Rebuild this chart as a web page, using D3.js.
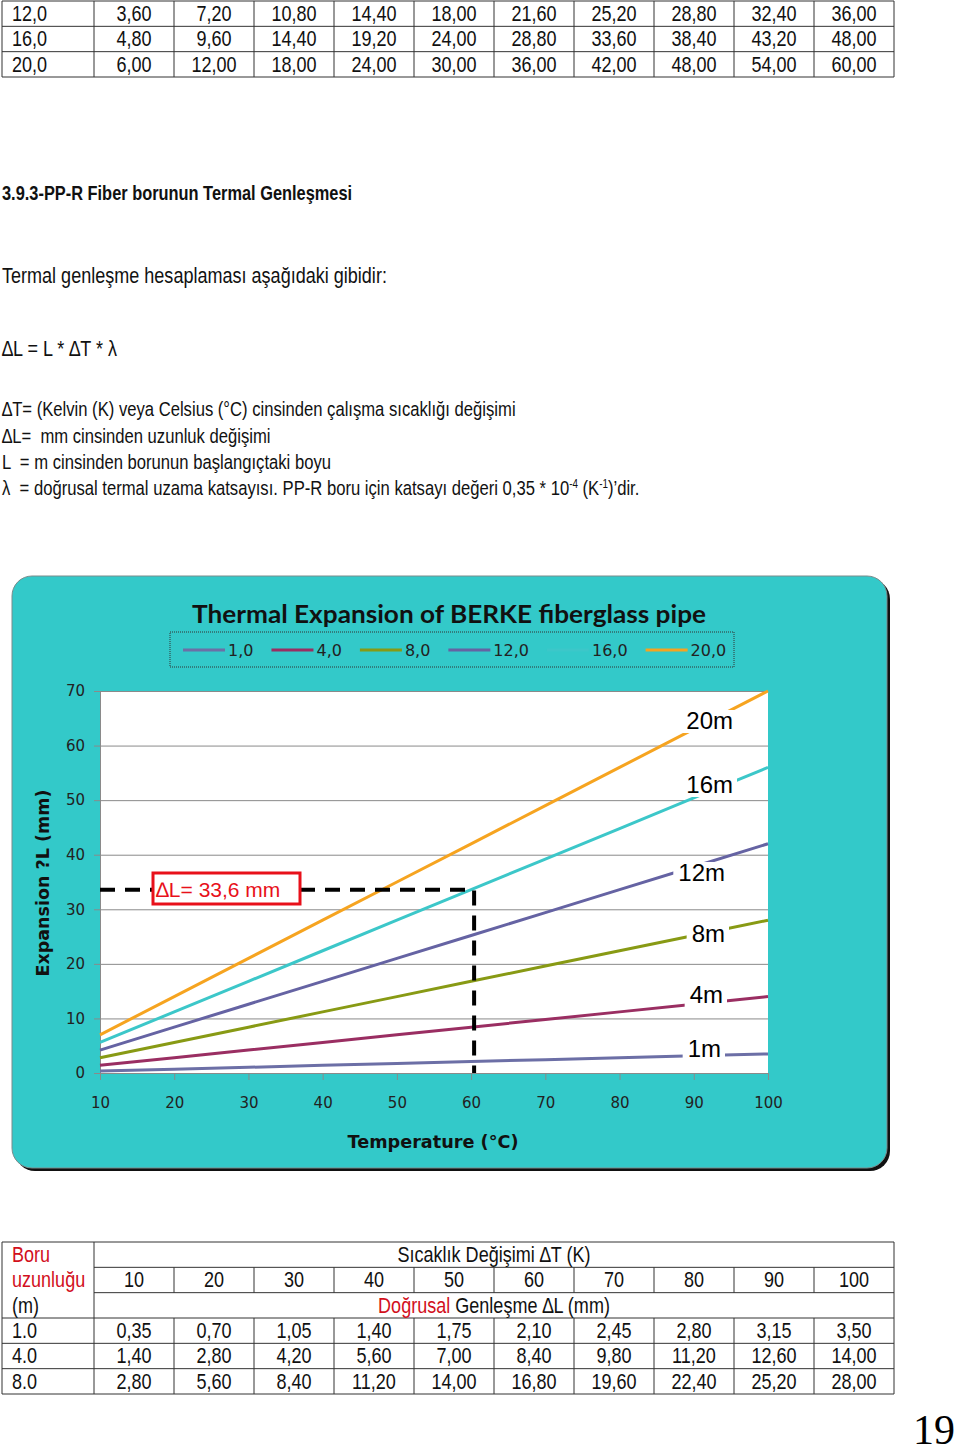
<!DOCTYPE html>
<html>
<head>
<meta charset="utf-8">
<script src="https://cdn.jsdelivr.net/npm/d3@7"></script>
<style>
  body { margin: 0; background: #fff; }
  svg { display: block; }
</style>
</head>
<body>
<div class="content"></div>
<script>
// ---- data ----
var topLengths = ['12,0', '16,0', '20,0'];
var topValues = [
    ['3,60', '7,20', '10,80', '14,40', '18,00', '21,60', '25,20', '28,80', '32,40', '36,00'],
    ['4,80', '9,60', '14,40', '19,20', '24,00', '28,80', '33,60', '38,40', '43,20', '48,00'],
    ['6,00', '12,00', '18,00', '24,00', '30,00', '36,00', '42,00', '48,00', '54,00', '60,00']
];

var temps = [10, 20, 30, 40, 50, 60, 70, 80, 90, 100];
var yTicks = [0, 10, 20, 30, 40, 50, 60, 70];

var legendLabels = ['1,0', '4,0', '8,0', '12,0', '16,0', '20,0'];
var lineLabels = ['1m', '4m', '8m', '12m', '16m', '20m'];
var exp1m  = [0.35, 0.70, 1.05, 1.40, 1.75, 2.10, 2.45, 2.80, 3.15, 3.50];
var exp4m  = [1.40, 2.80, 4.20, 5.60, 7.00, 8.40, 9.80, 11.20, 12.60, 14.00];
var exp8m  = [2.80, 5.60, 8.40, 11.20, 14.00, 16.80, 19.60, 22.40, 25.20, 28.00];
var exp12m = [4.20, 8.40, 12.60, 16.80, 21.00, 25.20, 29.40, 33.60, 37.80, 42.00];
var exp16m = [5.60, 11.20, 16.80, 22.40, 28.00, 33.60, 39.20, 44.80, 50.40, 56.00];
var exp20m = [7.00, 14.00, 21.00, 28.00, 35.00, 42.00, 49.00, 56.00, 63.00, 70.00];
var markTemp = 60, markValue = 33.6;

var bottomLengths = ['1.0', '4.0', '8.0'];
var bottomValues = [
    ['0,35', '0,70', '1,05', '1,40', '1,75', '2,10', '2,45', '2,80', '3,15', '3,50'],
    ['1,40', '2,80', '4,20', '5,60', '7,00', '8,40', '9,80', '11,20', '12,60', '14,00'],
    ['2,80', '5,60', '8,40', '11,20', '14,00', '16,80', '19,60', '22,40', '25,20', '28,00']
];

var series = [exp1m, exp4m, exp8m, exp12m, exp16m, exp20m];
var colors = ['#6c6fa6', '#9a2e62', '#889a14', '#6563a3', '#3cc7c9', '#f6a420'];

var red = '#d2101c';

var svg = d3.select('div.content').append('svg')
    .attr('width', 960)
    .attr('height', 1456);

// Arial Narrow is not around, so squeeze Liberation Sans instead
function ntext(parent, x, y, anchor) {
    return parent.append('text')
        .attr('transform', 'translate(' + x + ',' + y + ') scale(0.82,1)')
        .style('text-anchor', anchor || 'start');
}

// ---- top table ----
var col = d3.scaleBand().domain(d3.range(10)).range([94, 894]);
var topRow = d3.scaleBand().domain(d3.range(3)).range([1, 77]);

var topT = svg.append('g')
    .style('font-family', "'Liberation Sans', Arial, sans-serif")
    .style('font-size', '22px')
    .style('fill', '#111');

topT.selectAll('line.h')
    .data([0, 1, 2, 3])
    .enter().append('line')
        .attr('x1', 2).attr('x2', 894)
        .attr('y1', function(d) { return d < 3 ? topRow(d) : topRow.range()[1] })
        .attr('y2', function(d) { return d < 3 ? topRow(d) : topRow.range()[1] })
        .style('stroke', '#333');

topT.selectAll('line.v')
    .data([2].concat(d3.range(10).map(function(i) { return col(i) })).concat([894]))
    .enter().append('line')
        .attr('x1', function(d) { return d }).attr('x2', function(d) { return d })
        .attr('y1', 1).attr('y2', 77)
        .style('stroke', '#333');

topLengths.forEach(function(len, r) {
    ntext(topT, 12, topRow(r) + 20).text(len);
    topValues[r].forEach(function(v, i) {
        ntext(topT, col(i) + col.bandwidth() / 2, topRow(r) + 20, 'middle').text(v);
    });
});

// ---- body text ----
var body = svg.append('g')
    .style('font-family', "'Liberation Sans', Arial, sans-serif")
    .style('fill', '#111');

ntext(body, 2, 200)
    .style('font-size', '20px')
    .style('font-weight', 'bold')
    .text('3.9.3-PP-R Fiber borunun Termal Genleşmesi');

ntext(body, 2, 283)
    .style('font-size', '22px')
    .text('Termal genleşme hesaplaması aşağıdaki gibidir:');

ntext(body, 2, 356)
    .style('font-size', '22px')
    .text('∆L = L * ∆T * λ');

var defs = body.append('g').style('font-size', '20.3px');

ntext(defs, 2, 416)
    .text('∆T= (Kelvin (K) veya Celsius (°C) cinsinden çalışma sıcaklığı değişimi');
ntext(defs, 2, 443).attr('xml:space', 'preserve')
    .text('∆L=  mm cinsinden uzunluk değişimi');
ntext(defs, 2, 469).attr('xml:space', 'preserve')
    .text('L  = m cinsinden borunun başlangıçtaki boyu');

var lam = ntext(defs, 2, 495).attr('xml:space', 'preserve');
lam.append('tspan').text('λ  = doğrusal termal uzama katsayısı. PP-R boru için katsayı değeri 0,35 * 10');
lam.append('tspan').attr('dy', -7).style('font-size', '12px').text('-4');
lam.append('tspan').attr('dy', 7).text(' (K');
lam.append('tspan').attr('dy', -7).style('font-size', '12px').text('-1');
lam.append('tspan').attr('dy', 7).text(')’dir.');

// ---- chart ----
var chart = svg.append('g');

chart.append('rect')
    .attr('x', 15).attr('y', 579)
    .attr('width', 875).attr('height', 592)
    .attr('rx', 20)
    .style('fill', '#111');

chart.append('rect')
    .attr('x', 12).attr('y', 576)
    .attr('width', 875).attr('height', 592)
    .attr('rx', 20)
    .style('fill', '#33c9c9')
    .style('stroke', '#7a8c8c');

chart.append('text')
    .attr('x', 449).attr('y', 623)
    .attr('textLength', 514)
    .attr('lengthAdjust', 'spacingAndGlyphs')
    .style('font-family', 'Lato, sans-serif')
    .style('font-weight', 'bold')
    .style('font-size', '25px')
    .style('text-anchor', 'middle')
    .style('fill', '#111')
    .text('Thermal Expansion of BERKE fiberglass pipe');

// legend
var legend = chart.append('g')
    .style('font-family', "'DejaVu Sans', sans-serif")
    .style('font-size', '16px');

legend.append('rect')
    .attr('x', 170).attr('y', 632)
    .attr('width', 564).attr('height', 35)
    .style('fill', 'none')
    .style('stroke', '#333')
    .style('stroke-dasharray', '1,1');

var lx = 183;
legendLabels.forEach(function(lab, i) {
    legend.append('line')
        .attr('x1', lx).attr('x2', lx + 42)
        .attr('y1', 650).attr('y2', 650)
        .style('stroke', colors[i])
        .style('stroke-width', 3);
    var t = legend.append('text')
        .attr('x', lx + 45).attr('y', 656)
        .style('fill', '#222')
        .text(lab);
    lx += 45 + t.node().getComputedTextLength() + 18;
});

// plot area
var x = d3.scaleLinear().domain([10, 100]).range([100, 768]);
var y = d3.scaleLinear().domain([0, 70]).range([1073, 691]);

chart.append('rect')
    .attr('x', x(10)).attr('y', y(70))
    .attr('width', x(100) - x(10)).attr('height', y(0) - y(70))
    .style('fill', '#fff');

var grid = chart.append('g')
    .attr('transform', 'translate(' + x(10) + ',0)')
    .call(d3.axisLeft(y).tickValues(yTicks).tickSize(-(x(100) - x(10))).tickFormat(''));
grid.selectAll('line').style('stroke', '#8a8a8a');
grid.select('.domain').remove();

var yAxis = chart.append('g')
    .attr('transform', 'translate(' + x(10) + ',0)')
    .call(d3.axisLeft(y).tickValues(yTicks).tickSize(6).tickPadding(9).tickSizeOuter(0));
yAxis.selectAll('line, path').style('stroke', '#8a8a8a');
yAxis.selectAll('text')
    .style('font-family', "'DejaVu Sans', sans-serif")
    .style('font-size', '15px')
    .style('fill', '#222');

var xAxis = chart.append('g')
    .attr('transform', 'translate(0,' + y(0) + ')')
    .call(d3.axisBottom(x).tickValues(temps).tickSize(7).tickPadding(17).tickSizeOuter(0));
xAxis.selectAll('line, path').style('stroke', '#8a8a8a');
xAxis.selectAll('text')
    .style('font-family', "'DejaVu Sans', sans-serif")
    .style('font-size', '15px')
    .style('fill', '#222');

chart.append('text')
    .attr('transform', 'translate(49,883) rotate(-90)')
    .attr('textLength', 187)
    .attr('lengthAdjust', 'spacingAndGlyphs')
    .style('font-family', "'DejaVu Sans', sans-serif")
    .style('font-weight', 'bold')
    .style('font-size', '18px')
    .style('text-anchor', 'middle')
    .style('fill', '#111')
    .text('Expansion ?L (mm)');

chart.append('text')
    .attr('x', 433).attr('y', 1148)
    .attr('textLength', 171)
    .attr('lengthAdjust', 'spacingAndGlyphs')
    .style('font-family', "'DejaVu Sans', sans-serif")
    .style('font-weight', 'bold')
    .style('font-size', '18px')
    .style('text-anchor', 'middle')
    .style('fill', '#111')
    .text('Temperature (°C)');

var line = d3.line()
    .x(function(d, i) { return x(temps[i]) })
    .y(function(d) { return y(d) });

chart.selectAll('path.series')
    .data(series)
    .enter().append('path')
        .attr('class', 'series')
        .attr('d', line)
        .style('fill', 'none')
        .style('stroke', function(d, i) { return colors[i] })
        .style('stroke-width', 3);

// end labels sitting on a white patch that breaks the line
var labelSpots = [[721, 1057], [723, 1003], [725, 942], [725, 881], [733, 793], [733, 729]];
lineLabels.forEach(function(lab, i) {
    var g = chart.append('g');
    var bg = g.append('rect').style('fill', '#fff');
    var t = g.append('text')
        .attr('x', labelSpots[i][0]).attr('y', labelSpots[i][1])
        .style('font-family', "'Liberation Sans', Arial, sans-serif")
        .style('font-size', '24px')
        .style('text-anchor', 'end')
        .style('fill', '#000')
        .text(lab);
    var w = t.node().getComputedTextLength();
    bg.attr('x', labelSpots[i][0] - w - 5).attr('y', labelSpots[i][1] - 19)
        .attr('width', w + 9).attr('height', 23);
});

// dashed reading for 16 m at 60 K
chart.append('path')
    .attr('d', 'M' + x(10) + ',' + y(markValue) + 'H' + (x(markTemp) + 3) + 'V' + y(0))
    .style('fill', 'none')
    .style('stroke', '#000')
    .style('stroke-width', 4)
    .style('stroke-dasharray', '15,10');

chart.append('rect')
    .attr('x', 153).attr('y', 873)
    .attr('width', 147).attr('height', 31)
    .style('fill', '#fff')
    .style('stroke', '#e8101a')
    .style('stroke-width', 3);

chart.append('text')
    .attr('x', 156).attr('y', 897)
    .style('font-family', "'Liberation Sans', Arial, sans-serif")
    .style('font-size', '21px')
    .style('fill', '#e8101a')
    .text('∆L= 33,6 mm');

// ---- bottom table ----
var botRow = d3.scaleBand().domain(d3.range(6)).range([1242, 1394]);
var botT = svg.append('g')
    .style('font-family', "'Liberation Sans', Arial, sans-serif")
    .style('font-size', '22px')
    .style('fill', '#111');

var hLines = [[botRow(0), 2], [botRow(1), 94], [botRow(2), 94], [botRow(3), 2], [botRow(4), 2], [botRow(5), 2], [1394, 2]];
botT.selectAll('line.h')
    .data(hLines)
    .enter().append('line')
        .attr('x1', function(d) { return d[1] }).attr('x2', 894)
        .attr('y1', function(d) { return d[0] }).attr('y2', function(d) { return d[0] })
        .style('stroke', '#333');

[2, 94, 894].forEach(function(v) {
    botT.append('line')
        .attr('x1', v).attr('x2', v).attr('y1', 1242).attr('y2', 1394)
        .style('stroke', '#333');
});
d3.range(1, 10).forEach(function(i) {
    botT.append('line')
        .attr('x1', col(i)).attr('x2', col(i))
        .attr('y1', botRow(1)).attr('y2', botRow(2))
        .style('stroke', '#333');
    botT.append('line')
        .attr('x1', col(i)).attr('x2', col(i))
        .attr('y1', botRow(3)).attr('y2', 1394)
        .style('stroke', '#333');
});

ntext(botT, 12, botRow(0) + 20).style('fill', red).text('Boru');
ntext(botT, 12, botRow(1) + 20).style('fill', red).text('uzunluğu');
ntext(botT, 12, botRow(2) + 20).text('(m)');

ntext(botT, 494, botRow(0) + 20, 'middle').text('Sıcaklık Değişimi ∆T (K)');

temps.forEach(function(t, i) {
    ntext(botT, col(i) + col.bandwidth() / 2, botRow(1) + 20, 'middle').text(t);
});

var gen = ntext(botT, 494, botRow(2) + 20, 'middle');
gen.append('tspan').style('fill', red).text('Doğrusal');
gen.append('tspan').text(' Genleşme ∆L (mm)');

bottomLengths.forEach(function(len, r) {
    ntext(botT, 12, botRow(r + 3) + 20).text(len);
    bottomValues[r].forEach(function(v, i) {
        ntext(botT, col(i) + col.bandwidth() / 2, botRow(r + 3) + 20, 'middle').text(v);
    });
});

// page number
svg.append('text')
    .attr('x', 955).attr('y', 1444)
    .style('font-family', "'Liberation Serif', 'DejaVu Serif', serif")
    .style('font-size', '42px')
    .style('text-anchor', 'end')
    .style('fill', '#000')
    .text('19');
</script>
</body>
</html>
